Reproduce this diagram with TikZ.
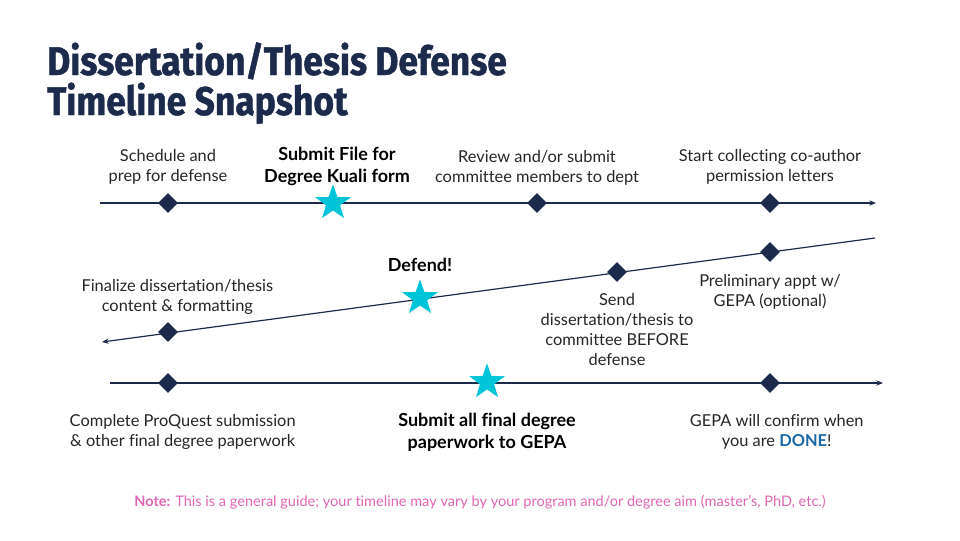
\documentclass[tikz,border=0pt]{standalone}
\usepackage{fontspec}
\setmainfont{Lato}[Ligatures=NoCommon]
\newfontfamily\titlefont{Fira Sans}[FakeStretch=0.885, BoldFeatures={FakeBold=1.2}]
\usetikzlibrary{positioning}
\usetikzlibrary{shapes.geometric}
\usetikzlibrary{arrows.meta}

\definecolor{navy}{HTML}{1C2B4B}
\definecolor{starcyan}{HTML}{00C4D8}
\definecolor{notepink}{HTML}{E066B3}
\definecolor{doneblue}{HTML}{1A67A8}

\tikzset{
    milestone/.style={diamond, fill=navy, inner sep=0pt, minimum size=15pt},
    keystar/.style={star, star points=5, star point ratio=2.5, fill=starcyan, inner sep=0pt, minimum size=28pt},
    track/.style={draw=navy, line width=0.9pt, -{Stealth[length=5pt, width=4pt]}},
    step label/.style={font=\fontsize{12.3}{15}\selectfont, align=center, text=black!85, inner sep=0pt},
    key label/.style={font=\bfseries\fontsize{13.5}{16.5}\selectfont, align=center, text=black, inner sep=0pt},
}

\begin{document}
\begin{tikzpicture}[x=0.75pt, y=-0.75pt]
    \useasboundingbox (0,0) rectangle (960,540);

    % title
    \node[anchor=base west, inner sep=0pt, text=navy, font=\titlefont\bfseries\fontsize{30}{30}\selectfont] (title1) at (47,75) {Dissertation/Thesis Defense};
    \node[anchor=base west, inner sep=0pt, text=navy, font=\titlefont\bfseries\fontsize{30}{30}\selectfont] (title2) at (47,115) {Timeline Snapshot};

    % row 1
    \coordinate (s1) at (100,203);
    \coordinate (e1) at (876,203);
    \draw[track] (s1) -- (e1);

    \node[milestone] (a1) at (168,203) {};
    \node[keystar] (b1) at (333,203) {};
    \node[milestone] (c1) at (537,203) {};
    \node[milestone] (d1) at (770,203) {};

    \node[step label, above=6pt of a1] (ta1) {Schedule and\\prep for defense};
    \node[key label, above=-1.5pt of b1, xshift=3pt] (tb1) {Submit File for\\Degree Kuali form};
    \node[step label, above=5pt of c1] (tc1) {Review and/or submit\\committee members to dept};
    \node[step label, above=6pt of d1] (td1) {Start collecting co-author\\permission letters};

    % row 2
    \coordinate (s2) at (875,238);
    \coordinate (e2) at (102,342);
    \draw[track] (s2) -- (e2);

    \node[milestone] (a2) at (770,252) {};
    \node[milestone] (b2) at (617,272) {};
    \node[keystar] (c2) at (420,298) {};
    \node[milestone] (d2) at (168,332) {};

    \node[step label, below=9pt of a2] (ta2) {Preliminary appt w/\\GEPA (optional)};
    \node[step label, below=8pt of b2] (tb2) {Send\\dissertation/thesis to\\committee BEFORE\\defense};
    \node[key label, above=5pt of c2] (tc2) {Defend!};
    \node[step label, above=5pt of d2, xshift=7pt] (td2) {Finalize dissertation/thesis\\content \& formatting};

    % row 3
    \coordinate (s3) at (110,383);
    \coordinate (e3) at (883,383);
    \draw[track] (s3) -- (e3);

    \node[milestone] (a3) at (168,383) {};
    \node[keystar] (b3) at (487,382) {};
    \node[milestone] (c3) at (770,383) {};

    \node[step label, below=16pt of a3, xshift=11pt] (ta3) {Complete ProQuest submission\\\& other final degree paperwork};
    \node[key label, below=17pt of b3] (tb3) {Submit all final degree\\paperwork to GEPA};
    \node[step label, below=16pt of c3, xshift=5pt] (tc3) {GEPA will confirm when\\you are \textbf{\textcolor{doneblue}{DONE}}!};

    % note
    \node[inner sep=0pt, text=notepink, font=\fontsize{10.9}{12}\selectfont] (note) at (480,502) {\textbf{Note:} This is a general guide; your timeline may vary by your program and/or degree aim (master's, PhD, etc.)};
\end{tikzpicture}
\end{document}
